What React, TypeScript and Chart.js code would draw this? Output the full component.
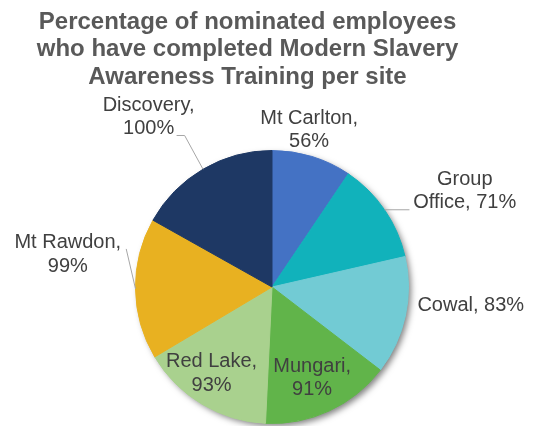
import React, { useEffect, useRef } from "react";
import { Chart, registerables } from "chart.js";

Chart.register(...registerables);

const titleLines = [
  "Percentage of nominated employees",
  "who have completed Modern Slavery",
  "Awareness Training per site",
];
const sites = ["Mt Carlton", "Group Office", "Cowal", "Mungari", "Red Lake", "Mt Rawdon", "Discovery"];
const completion = [56, 71, 83, 91, 93, 99, 100];
const sliceColors = ["#4472C4", "#11B2BB", "#72CBD4", "#61B44A", "#A9D18E", "#E8B121", "#1E3864"];

// label text lines per slice
const labelLines = [
  ["Mt Carlton,", "56%"],
  ["Group", "Office, 71%"],
  ["Cowal, 83%"],
  ["Mungari,", "91%"],
  ["Red Lake,", "93%"],
  ["Mt Rawdon,", "99%"],
  ["Discovery,", "100%"],
];
// label anchor offsets from pie centre, in radius units
const labelPos = [
  [0.272, -1.151],
  [1.412, -0.704],
  [1.456, 0.1375],
  [0.294, 0.668],
  [-0.443, 0.632],
  [-1.496, -0.24],
  [-0.904, -1.244],
];
// leader line points (after the slice-edge point), radius units
const leaders: (any[][] | null)[] = [
  null,
  [[1.007, null]],
  null,
  null,
  null,
  [[-1.068, -0.279]],
  [[-0.64, -1.11], [-0.699, -1.11]],
];

const pieDecor = {
  id: "pieDecor",
  beforeDatasetsDraw(chart: any) {
    const meta = chart.getDatasetMeta(0);
    const a = meta.data[0];
    if (!a) return;
    const ctx = chart.ctx;
    ctx.save();
    ctx.shadowColor = "rgba(0,0,0,0.5)";
    ctx.shadowBlur = 6;
    ctx.shadowOffsetX = 3;
    ctx.shadowOffsetY = 3;
    ctx.beginPath();
    ctx.arc(a.x, a.y, a.outerRadius - 0.5, 0, Math.PI * 2);
    ctx.fillStyle = "#ffffff";
    ctx.fill();
    ctx.restore();
  },
  afterDraw(chart: any) {
    const ctx = chart.ctx;
    const meta = chart.getDatasetMeta(0);
    ctx.save();
    // title
    ctx.fillStyle = "#595959";
    ctx.font = "bold 24px 'Liberation Sans', Arial, sans-serif";
    ctx.textAlign = "center";
    ctx.textBaseline = "alphabetic";
    titleLines.forEach((t, i) => ctx.fillText(t, 247.5, 28.5 + i * 27.5));

    meta.data.forEach((arc: any, i: number) => {
      const cx = arc.x, cy = arc.y, R = arc.outerRadius;
      const mid = (arc.startAngle + arc.endAngle) / 2;
      // leader lines
      const ld = leaders[i];
      if (ld) {
        const ex = cx + Math.cos(mid) * R;
        const ey = cy + Math.sin(mid) * R;
        ctx.beginPath();
        ctx.moveTo(ex, ey);
        ld.forEach((p) => {
          const px = cx + p[0] * R;
          const py = p[1] == null ? ey : cy + p[1] * R;
          ctx.lineTo(px, py);
        });
        ctx.strokeStyle = "#A6A6A6";
        ctx.lineWidth = 1;
        ctx.stroke();
      }
      // labels
      const lines = labelLines[i];
      const lx = cx + labelPos[i][0] * R;
      const ly = cy + labelPos[i][1] * R;
      const lh = 23.5;
      ctx.fillStyle = "#404040";
      ctx.font = "20px 'Liberation Sans', Arial, sans-serif";
      ctx.textAlign = "center";
      ctx.textBaseline = "middle";
      lines.forEach((t, k) => {
        const y = ly + (k - (lines.length - 1) / 2) * lh;
        ctx.fillText(t, lx, y);
      });
    });
    ctx.restore();
  },
};

export default function App() {
  const ref = useRef<HTMLCanvasElement>(null);
  useEffect(() => {
    if (!ref.current) return;
    const chart = new Chart(ref.current, {
      type: "pie",
      data: {
        labels: sites,
        datasets: [
          {
            data: completion,
            backgroundColor: sliceColors,
            borderColor: sliceColors,
            borderWidth: 1,
          },
        ],
      },
      options: {
        responsive: false,
        animation: false,
        layout: { padding: { left: 135, top: 150, right: 124, bottom: 2 } },
        plugins: {
          legend: { display: false },
          tooltip: { enabled: false },
          title: { display: false },
        },
      },
      plugins: [pieDecor],
    });
    return () => chart.destroy();
  }, []);
  return (
    <div style={{ position: "absolute", left: 0, top: 0, width: 533, height: 426, background: "#fff" }}>
      <canvas ref={ref} width={533} height={426} style={{ width: 533, height: 426, display: "block" }} />
    </div>
  );
}
